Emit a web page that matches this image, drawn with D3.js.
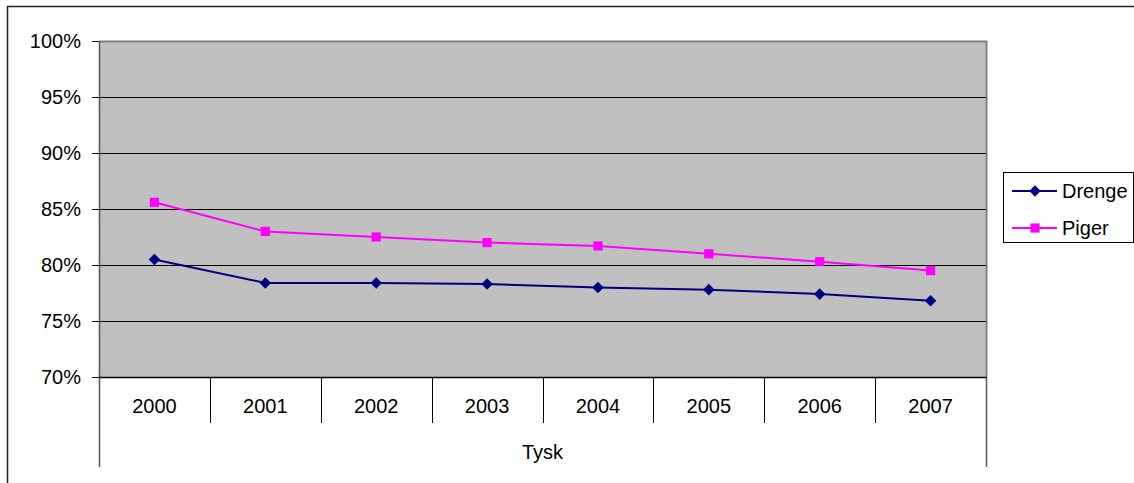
<!DOCTYPE html>
<html>
<head>
<meta charset="utf-8">
<script src="https://cdn.jsdelivr.net/npm/d3@7"></script>
<style>
  body { margin: 0; background: #fff; }
  text { font-family: "Liberation Sans", Arial, sans-serif; fill: #000; }
</style>
</head>
<body>
<svg id="chart" width="1134" height="483"></svg>
<script>
const years = ["2000", "2001", "2002", "2003", "2004", "2005", "2006", "2007"];
const drenge = [0.805, 0.784, 0.784, 0.783, 0.780, 0.778, 0.774, 0.768];
const piger = [0.856, 0.830, 0.825, 0.820, 0.817, 0.810, 0.803, 0.795];
const yTicks = [0.70, 0.75, 0.80, 0.85, 0.90, 0.95, 1.00];
const groupLabel = "Tysk";

const series = [
  { name: "Drenge", values: drenge, color: "#000080", symbol: d3.symbolDiamond2, size: 85 },
  { name: "Piger", values: piger, color: "#FF00FF", symbol: d3.symbolSquare, size: 85 },
];

const plot = { left: 99, right: 986, top: 41, bottom: 377 };

const svg = d3.select("#chart");

// outer frame
svg.append("path")
  .attr("d", "M7.5,483 V6.5 H1134")
  .attr("fill", "none")
  .attr("stroke", "#222")
  .attr("stroke-width", 1.5);

const x = d3.scaleBand().domain(years).range([plot.left, plot.right]);
const y = d3.scaleLinear().domain([0.70, 1.00]).range([plot.bottom, plot.top]);

// plot background
svg.append("rect")
  .attr("x", plot.left)
  .attr("y", plot.top)
  .attr("width", plot.right - plot.left)
  .attr("height", plot.bottom - plot.top)
  .attr("fill", "#C0C0C0");

// gridlines
svg.append("g")
  .selectAll("line")
  .data(yTicks.filter((d) => d > 0.70 && d < 1.00))
  .enter()
  .append("line")
  .attr("x1", plot.left)
  .attr("x2", plot.right)
  .attr("y1", (d) => Math.round(y(d)) + 0.5)
  .attr("y2", (d) => Math.round(y(d)) + 0.5)
  .attr("stroke", "#000")
  .attr("stroke-width", 1);

// top and right border of plot area
svg.append("path")
  .attr("d", `M${plot.left},${plot.top + 0.5} H${plot.right + 0.5} V${plot.bottom}`)
  .attr("fill", "none")
  .attr("stroke", "#808080")
  .attr("stroke-width", 2);

// y axis
const yAxis = d3.axisLeft(y)
  .tickValues(yTicks)
  .tickFormat(d3.format(".0%"))
  .tickSize(7)
  .tickPadding(11);

const gy = svg.append("g")
  .attr("transform", `translate(${plot.left},0)`)
  .call(yAxis);
gy.select(".domain").remove();
gy.selectAll(".tick line").attr("stroke", "#000");
gy.selectAll(".tick text")
  .attr("font-size", 20)
  .style("font-family", '"Liberation Sans", Arial, sans-serif');

// left axis line extends to bottom of the group label
svg.append("line")
  .attr("x1", plot.left + 0.5)
  .attr("x2", plot.left + 0.5)
  .attr("y1", plot.top)
  .attr("y2", 467)
  .attr("stroke", "#555")
  .attr("stroke-width", 1.5);

// right outer line of category area
svg.append("line")
  .attr("x1", plot.right + 0.5)
  .attr("x2", plot.right + 0.5)
  .attr("y1", plot.bottom)
  .attr("y2", 467)
  .attr("stroke", "#555")
  .attr("stroke-width", 1.5);

// x axis
const xAxis = d3.axisBottom(x).tickSize(0).tickPadding(22);
const gx = svg.append("g")
  .attr("transform", `translate(0,${plot.bottom})`)
  .call(xAxis);
gx.select(".domain").attr("stroke", "#000").attr("stroke-width", 1.5);
gx.selectAll(".tick text")
  .attr("font-size", 20)
  .style("font-family", '"Liberation Sans", Arial, sans-serif');

// category separators
svg.append("g")
  .selectAll("line")
  .data(years.slice(1))
  .enter()
  .append("line")
  .attr("x1", (d) => Math.round(x(d)) + 0.5)
  .attr("x2", (d) => Math.round(x(d)) + 0.5)
  .attr("y1", plot.bottom)
  .attr("y2", 423)
  .attr("stroke", "#000")
  .attr("stroke-width", 1);

// group label
svg.append("text")
  .attr("x", (plot.left + plot.right) / 2)
  .attr("y", 459)
  .attr("text-anchor", "middle")
  .attr("font-size", 20)
  .text(groupLabel);

// lines and markers
const line = d3.line()
  .x((d, i) => x(years[i]) + x.bandwidth() / 2)
  .y((d) => y(d));

series.forEach((s) => {
  svg.append("path")
    .datum(s.values)
    .attr("d", line)
    .attr("fill", "none")
    .attr("stroke", s.color)
    .attr("stroke-width", 2);

  svg.append("g")
    .selectAll("path")
    .data(s.values)
    .enter()
    .append("path")
    .attr("d", d3.symbol().type(s.symbol).size(s.size))
    .attr("transform", (d, i) => `translate(${x(years[i]) + x.bandwidth() / 2},${y(d)})`)
    .attr("fill", s.color);
});

// legend
const legend = svg.append("g");
legend.append("rect")
  .attr("x", 1003.5)
  .attr("y", 172.5)
  .attr("width", 130)
  .attr("height", 70)
  .attr("fill", "#fff")
  .attr("stroke", "#000")
  .attr("stroke-width", 1);

const rows = legend.selectAll(".row")
  .data(series)
  .enter()
  .append("g")
  .attr("transform", (d, i) => `translate(0,${191 + i * 37})`);

rows.append("line")
  .attr("x1", 1012)
  .attr("x2", 1057)
  .attr("stroke", (d) => d.color)
  .attr("stroke-width", 2);

rows.append("path")
  .attr("d", (d) => d3.symbol().type(d.symbol).size(d.size)())
  .attr("transform", "translate(1035,0)")
  .attr("fill", (d) => d.color);

rows.append("text")
  .attr("x", 1062)
  .attr("dy", "0.35em")
  .attr("font-size", 20)
  .text((d) => d.name);
</script>
</body>
</html>
